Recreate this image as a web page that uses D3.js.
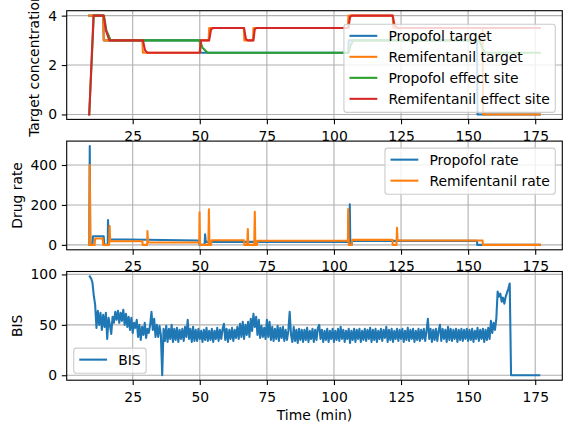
<!DOCTYPE html>
<html>
<head>
<meta charset="utf-8">
<script src="https://cdn.jsdelivr.net/npm/d3@7"></script>
<style>
body { margin: 0; background: #fff; }
svg { font-family: "DejaVu Sans", sans-serif; display: block; }
</style>
</head>
<body>
<div id="root"></div>
<script>
// ---- data: [time (min), value] ----
var propofolTarget = [[8.8, 4], [14.0, 4], [14.2, 3], [50.0, 3], [50.2, 2.5], [105.3, 2.5], [105.5, 3],
    [153.3, 3], [153.5, 0], [176.7, 0]];
var remifentanilTarget = [[8.8, 4], [14.0, 4], [14.2, 3], [28.6, 3], [28.8, 2.5], [50.0, 2.5], [50.2, 3],
    [53.3, 3], [53.5, 3.5], [66.4, 3.5], [66.6, 3], [69.8, 3], [70.0, 3.5], [105.2, 3.5], [105.4, 4],
    [121.9, 4], [122.1, 3.5], [155.4, 3.5], [155.6, 0], [176.7, 0]];
var propofolEffect = [[8.8, 0], [10.5, 4], [14.3, 4], [15.2, 3.4], [16.8, 3], [50.1, 3], [51.0, 2.7],
    [52.9, 2.5], [105.5, 2.5], [106.2, 2.8], [107.2, 3], [154.3, 3], [155.2, 2.7], [156.5, 2.5], [176.7, 2.5]];
var remifentanilEffect = [[8.8, 0], [10.4, 4], [14.2, 4], [15.0, 3.4], [16.3, 3], [28.8, 3], [29.6, 2.6],
    [30.5, 2.5], [50.0, 2.5], [50.4, 3], [53.5, 3], [54.2, 3.45], [55.0, 3.5], [66.5, 3.5], [67.2, 3.05],
    [67.9, 3], [70.0, 3], [70.5, 3.45], [71.2, 3.5], [105.4, 3.5], [106.0, 3.95], [106.6, 4], [121.9, 4],
    [122.6, 3.6], [123.8, 3.5], [176.7, 3.5]];

var propofolRate = [[8.8, 0], [9.0, 495], [9.2, 0], [10.0, 0], [10.2, 43], [14.2, 43], [14.4, 0],
    [15.7, 0], [15.8, 124], [16.0, 28], [30.0, 26], [49.8, 22], [49.9, 0], [51.8, 0], [52.0, 53],
    [52.2, 15], [105.7, 15], [105.9, 203], [106.1, 0], [106.6, 0], [106.8, 20], [153.3, 20],
    [153.4, 0], [176.7, 0]];
var remifentanilRate = [[8.8, 0], [9.0, 400], [9.2, 0], [10.8, 0], [11.0, 32], [13.8, 32], [14.0, 0],
    [16.2, 0], [16.4, 96], [16.6, 18], [28.6, 18], [28.7, 0], [30.4, 0], [30.5, 69], [30.7, 12],
    [49.8, 12], [49.9, 163], [50.1, 0], [53.2, 0], [53.4, 178], [53.6, 0], [54.2, 0], [54.4, 23],
    [66.5, 23], [66.6, 0], [67.7, 0], [67.9, 79], [68.1, 0], [70.3, 0], [70.5, 166], [70.7, 0],
    [71.3, 0], [71.5, 21], [105.2, 21], [105.3, 180], [105.5, 0], [106.6, 0], [106.8, 25],
    [121.8, 25], [121.9, 0], [123.3, 0], [123.5, 86], [123.7, 22], [155.4, 22], [155.5, 0], [176.7, 0]];

// BIS sampled every 0.5 min from t = 9
var bisStart = 9, bisStep = 0.5;
var bisValues = [
    98, 96, 92, 79, 70, 47, 64, 50, 62, 45,
    60, 48, 62, 36, 57, 50, 41, 58, 52, 63,
    55, 64, 52, 62, 54, 65, 50, 61, 48, 58,
    45, 57, 42, 52, 47, 55, 38, 50, 35, 48,
    40, 52, 37, 46, 42, 50, 63, 45, 56, 38,
    50, 38, 49, 40, 0, 46, 34, 49, 33, 46,
    36, 50, 33, 46, 35, 47, 33, 45, 36, 46,
    34, 48, 38, 55, 36, 46, 33, 48, 34, 45,
    34, 46, 36, 44, 33, 45, 35, 47, 34, 44,
    35, 46, 33, 44, 36, 47, 34, 45, 36, 46,
    51, 35, 46, 33, 45, 36, 47, 34, 45, 37,
    48, 36, 51, 38, 53, 36, 50, 40, 53, 38,
    56, 44, 61, 48, 58, 40, 55, 37, 49, 38,
    47, 36, 55, 38, 53, 35, 48, 34, 46, 36,
    49, 34, 47, 37, 48, 34, 45, 35, 44, 63,
    40, 33, 48, 34, 45, 32, 46, 35, 45, 33,
    45, 35, 47, 33, 44, 36, 46, 33, 45, 35,
    47, 50, 36, 45, 33, 44, 35, 46, 33, 44,
    36, 46, 33, 44, 35, 46, 34, 48, 36, 45,
    33, 44, 36, 46, 32, 44, 35, 46, 33, 45,
    36, 46, 33, 44, 35, 46, 34, 45, 36, 47,
    33, 45, 35, 46, 33, 44, 36, 46, 34, 45,
    37, 48, 33, 45, 35, 46, 33, 44, 36, 46,
    34, 45, 36, 46, 33, 44, 35, 47, 34, 45,
    36, 46, 33, 44, 35, 46, 34, 45, 36, 46,
    34, 44, 56, 36, 46, 33, 45, 35, 46, 34,
    44, 50, 34, 46, 36, 45, 33, 48, 35, 46,
    34, 45, 36, 46, 33, 45, 35, 46, 34, 45,
    36, 46, 34, 45, 35, 46, 33, 44, 36, 47,
    34, 45, 36, 46, 33, 45, 35, 47, 36, 54,
    42, 52, 45, 56, 83, 78, 81, 73, 77, 71,
    78, 82, 86, 91, 0, 0, 0, 0, 0, 0,
    0, 0, 0, 0, 0, 0, 0, 0, 0, 0,
    0, 0, 0, 0, 0, 0
];
var bis = bisValues.map(function (v, i) { return [bisStart + i * bisStep, v]; });

var xTicks = [25, 50, 75, 100, 125, 150, 175];
var colors = ["#1f77b4", "#ff7f0e", "#2ca02c", "#d62728"];

// ---- layout ----
var svgWidth = 571, svgHeight = 433;
var left = 66.7, right = 562.3, axH = 108.7, gap = 21.7, top0 = 10.7;
var fontSize = 13.9, lw = 2.08;

var svg = d3.select("#root").append("svg")
    .attr("width", svgWidth)
    .attr("height", svgHeight);

var allT = [];
[propofolTarget, remifentanilTarget, propofolRate, remifentanilRate, bis].forEach(function (s) {
    s.forEach(function (d) { allT.push(d[0]); });
});
var tExt = d3.extent(allT), tPad = (tExt[1] - tExt[0]) * 0.05;
var x = d3.scaleLinear().domain([tExt[0] - tPad, tExt[1] + tPad]).range([left, right]);

function drawPanel(i, series, yTicks, yLabel, labelX, loc) {
    var top = top0 + i * (axH + gap), bottom = top + axH;
    var vals = [];
    series.forEach(function (s) { s.data.forEach(function (d) { vals.push(d[1]); }); });
    var ext = d3.extent(vals), p = (ext[1] - ext[0]) * 0.05;
    var y = d3.scaleLinear().domain([ext[0] - p, ext[1] + p]).range([bottom, top]);

    var g = svg.append("g");

    // grid
    g.append("g").selectAll("line").data(xTicks).enter().append("line")
        .attr("x1", function (d) { return x(d); }).attr("x2", function (d) { return x(d); })
        .attr("y1", top).attr("y2", bottom)
        .attr("stroke", "#b0b0b0").attr("stroke-width", 1.1);
    g.append("g").selectAll("line").data(yTicks).enter().append("line")
        .attr("y1", function (d) { return y(d); }).attr("y2", function (d) { return y(d); })
        .attr("x1", left).attr("x2", right)
        .attr("stroke", "#b0b0b0").attr("stroke-width", 1.1);

    svg.append("clipPath").attr("id", "clip" + i)
        .append("rect").attr("x", left).attr("y", top).attr("width", right - left).attr("height", axH);

    var line = d3.line()
        .x(function (d) { return x(d[0]); })
        .y(function (d) { return y(d[1]); });

    g.append("g").attr("clip-path", "url(#clip" + i + ")")
        .selectAll("path").data(series).enter().append("path")
        .attr("d", function (s) { return line(s.data); })
        .attr("fill", "none")
        .attr("stroke", function (s) { return s.color; })
        .attr("stroke-width", lw)
        .attr("stroke-linejoin", "round")
        .attr("stroke-linecap", "square");

    g.append("rect")
        .attr("x", left).attr("y", top).attr("width", right - left).attr("height", axH)
        .attr("fill", "none").attr("stroke", "#000").attr("stroke-width", 1.1);

    var xa = g.append("g")
        .attr("transform", "translate(0," + bottom + ")")
        .call(d3.axisBottom(x).tickValues(xTicks).tickFormat(d3.format("d"))
            .tickSize(4.9).tickPadding(6.7).tickSizeOuter(0));
    var ya = g.append("g")
        .attr("transform", "translate(" + left + ",0)")
        .call(d3.axisLeft(y).tickValues(yTicks).tickFormat(d3.format("d"))
            .tickSize(4.9).tickPadding(4.8).tickSizeOuter(0));
    [xa, ya].forEach(function (a) {
        a.select(".domain").remove();
        a.attr("font-size", fontSize).attr("font-family", "DejaVu Sans").attr("color", "#000");
        a.selectAll("line").attr("stroke-width", 1.1);
    });

    g.append("text")
        .attr("transform", "translate(" + labelX + "," + ((top + bottom) / 2) + ") rotate(-90)")
        .attr("text-anchor", "middle")
        .attr("font-size", fontSize)
        .text(yLabel);

    drawLegend(g, series, loc, top, bottom);
    return bottom;
}

function drawLegend(g, series, loc, top, bottom) {
    var pad = 5.56, handle = 27.8, hpad = 11.1, rowH = 14, rowGap = 7;
    var lg = g.append("g");
    var box = lg.append("rect");
    var texts = lg.selectAll("text").data(series).enter().append("text")
        .attr("font-size", fontSize)
        .text(function (s) { return s.name; });
    var maxW = d3.max(texts.nodes(), function (n) { return n.getComputedTextLength(); });
    var w = pad * 2 + handle + hpad + maxW;
    var h = pad * 2 + series.length * rowH + (series.length - 1) * rowGap;
    var bx = loc.indexOf("right") >= 0 ? right - 7 - w : left + 7;
    var by = loc.indexOf("upper") >= 0 ? top + 7 : bottom - 7 - h;
    box.attr("x", bx).attr("y", by).attr("width", w).attr("height", h)
        .attr("rx", 2.8).attr("ry", 2.8)
        .attr("fill", "#fff").attr("fill-opacity", 0.8)
        .attr("stroke", "#cccccc").attr("stroke-width", 1.1);
    function rowY(i) { return by + pad + 6 + i * (rowH + rowGap); }
    texts.attr("x", bx + pad + handle + hpad)
        .attr("y", function (d, i) { return rowY(i) + 5; });
    lg.selectAll("line").data(series).enter().append("line")
        .attr("x1", bx + pad).attr("x2", bx + pad + handle)
        .attr("y1", function (d, i) { return rowY(i); })
        .attr("y2", function (d, i) { return rowY(i); })
        .attr("stroke", function (s) { return s.color; })
        .attr("stroke-width", lw);
}

drawPanel(0, [
    { name: "Propofol target", data: propofolTarget, color: colors[0] },
    { name: "Remifentanil target", data: remifentanilTarget, color: colors[1] },
    { name: "Propofol effect site", data: propofolEffect, color: colors[2] },
    { name: "Remifentanil effect site", data: remifentanilEffect, color: colors[3] }
], [0, 2, 4], "Target concentration", 38.8, "lower right");

drawPanel(1, [
    { name: "Propofol rate", data: propofolRate, color: colors[0] },
    { name: "Remifentanil rate", data: remifentanilRate, color: colors[1] }
], [0, 200, 400], "Drug rate", 21.5, "upper right");

var lastBottom = drawPanel(2, [
    { name: "BIS", data: bis, color: colors[0] }
], [0, 50, 100], "BIS", 21.5, "lower left");

svg.append("text")
    .attr("x", (left + right) / 2)
    .attr("y", lastBottom + 39.7)
    .attr("text-anchor", "middle")
    .attr("font-size", fontSize)
    .text("Time (min)");
</script>
</body>
</html>
